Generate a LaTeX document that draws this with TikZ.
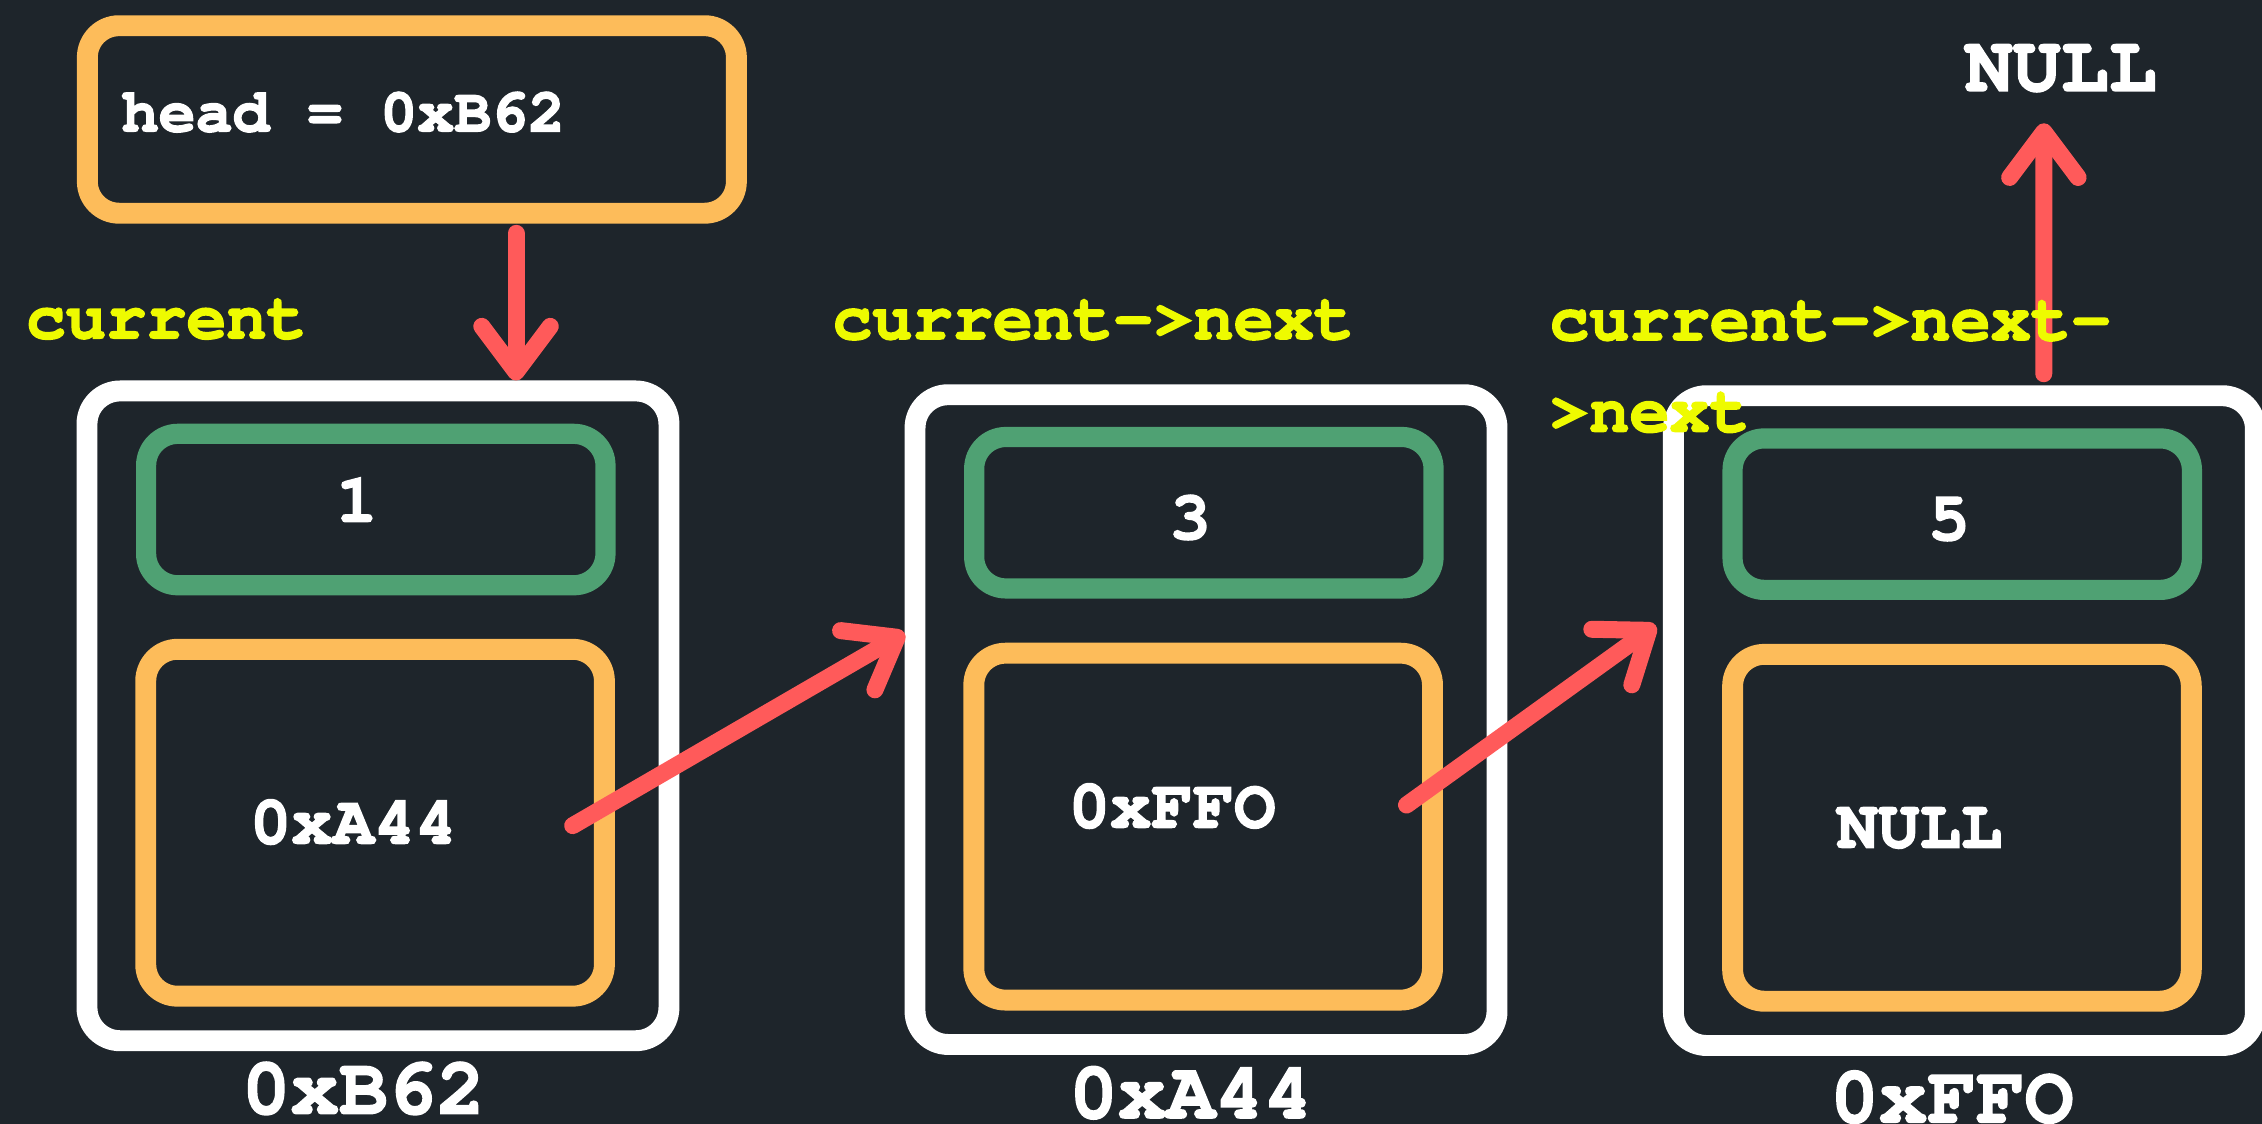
\documentclass[tikz,border=0pt]{standalone}
\usepackage[T1]{fontenc}
\usepackage{courier}
\usetikzlibrary{arrows.meta}

\definecolor{board}{HTML}{1E252B}
\definecolor{ptrred}{HTML}{FF5A5A}
\definecolor{valorange}{HTML}{FDBC5A}
\definecolor{datagreen}{HTML}{4FA173}
\definecolor{varyellow}{HTML}{EEFB00}
\newcommand{\heavy}{\special{pdf:literal direct 2 Tr 0.6 w}}

\begin{document}
\begin{tikzpicture}[
    x=0.02cm, y=-0.02cm,
    cell/.style={draw=white, line width=0.29cm, rounded corners=0.46cm,
      minimum width=8.07cm, minimum height=9.01cm},
    datafield/.style={draw=datagreen, line width=0.28cm, rounded corners=0.44cm,
      minimum width=6.37cm, minimum height=2.1cm},
    nextfield/.style={draw=valorange, line width=0.29cm, rounded corners=0.44cm,
      minimum width=6.36cm, minimum height=4.81cm},
    code/.style={text=white, inner sep=0pt, anchor=base,
      font=\ttfamily\bfseries\fontsize{27.2}{31}\selectfont\heavy},
    addr/.style={code, font=\ttfamily\bfseries\fontsize{32}{36}\selectfont\heavy},
    var/.style={text=varyellow, inner sep=0pt, anchor=base west,
      font=\ttfamily\bfseries\fontsize{26.4}{30}\selectfont\heavy},
    arrow/.style={->, >={Straight Barb[round, length=18pt, width=27pt]},
      draw=ptrred, line width=0.236cm, line cap=round}
  ]
  \fill[board] (0,0) rectangle (1568,779);
  \useasboundingbox (0,0) rectangle (1568,779);

  % Head
  \node[nextfield, minimum width=9cm, minimum height=2.6cm] (head) at (285.5,82.8) {};
  \node[code, anchor=base west, font=\ttfamily\bfseries\fontsize{24.3}{28}\selectfont\heavy]
    (headtxt) at (84,91) {head = 0xB62};
  \node[addr, font=\ttfamily\bfseries\fontsize{31.5}{36}\selectfont\heavy]
    (nil) at (1428.5,63) {NULL};

  % List nodes
  \node[cell] (n1) at (262,496.2) {};
  \node[cell] (n2) at (836,498.8) {};
  \node[cell] (n3) at (1361.7,499.5) {};
  \node[datafield] (d1) at (260.5,353.2) {};
  \node[datafield] (d2) at (834.5,355.4) {};
  \node[datafield] (d3) at (1360.2,356.4) {};
  \node[nextfield] (p1) at (260,570.3) {};
  \node[nextfield] (p2) at (834,573) {};
  \node[nextfield] (p3) at (1360,573.8) {};

  % Pointers
  \draw[arrow] ([shift={(72.2,6.7)}]head.south) -- ([shift={(95.7,0)}]n1.north);
  \draw[arrow] ([shift={(137,2)}]p1.center) -- ([shift={(0,-60)}]n2.west);
  \draw[arrow] ([shift={(141,-15)}]p2.center) -- ([shift={(-5,-66)}]n3.west);
  \draw[arrow] ([shift={(55,-8)}]n3.north) -- ([shift={(-11.7,21)}]nil.south);

  % Values
  \node[code] (v1) at (247.4,361.6) {1};
  \node[code] (v3) at (825,373.6) {3};
  \node[code] (v5) at (1351,374.3) {5};
  \node[code] (a1) at (245,584.7) {0xA44};
  \node[code] (a2) at (812.5,573.6) {0xFFO};
  \node[code] (a3) at (1330.5,587.5) {NULL};

  % Variables
  \node[var] (cur) at (17.5,234.5) {current};
  \node[var] (curnext) at (576.5,235) {current->next};
  \node[var] (curnn) at (1073.5,235.7) {current->next-};
  \node[var] (curnnb) at (1073.5,299.2) {>next};

  % Addresses
  \node[addr] (addr1) at (252,772) {0xB62};
  \node[addr] (addr2) at (825.5,775) {0xA44};
  \node[addr] (addr3) at (1353,778) {0xFFO};
\end{tikzpicture}
\end{document}
